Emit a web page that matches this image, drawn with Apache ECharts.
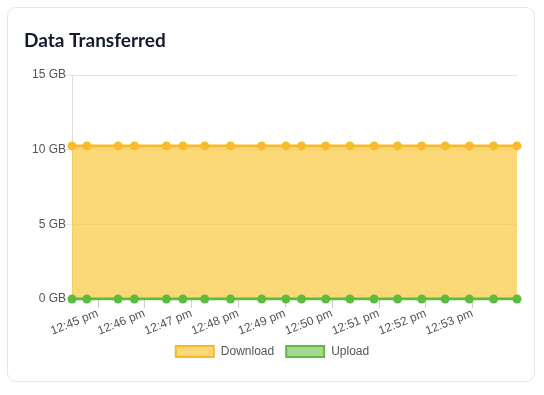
<!DOCTYPE html>
<html><head><meta charset="utf-8">
<script src="https://cdn.jsdelivr.net/npm/echarts@6/dist/echarts.min.js"></script>
<style>
html,body{margin:0;padding:0;background:#fff;width:544px;height:395px;overflow:hidden;}
#card{position:absolute;left:7px;top:7px;width:528px;height:375px;border:1px solid #e6e6e6;border-radius:9px;box-sizing:border-box;}
#chart{position:absolute;left:0;top:0;width:544px;height:395px;}
</style></head>
<body>
<div id="card"></div>
<div id="chart"></div>
<script>
const DAY = '2024-01-01 ';
const times = ['12:44:27','12:44:46','12:45:26','12:45:47','12:46:28','12:46:49','12:47:17','12:47:50','12:48:30','12:49:01',
               '12:49:21','12:49:52','12:50:23','12:50:54','12:51:24','12:51:55','12:52:25','12:52:56','12:53:27','12:53:57'];
const download = [10.25,10.25,10.25,10.25,10.25,10.25,10.25,10.25,10.25,10.25,10.25,10.25,10.25,10.25,10.25,10.25,10.25,10.25,10.25,10.25];
const upload = [0,0,0,0,0,0,0,0,0,0,0,0,0,0,0,0,0,0,0,0];
const tickTimes = ['12:45:00','12:46:00','12:47:00','12:48:00','12:49:00','12:50:00','12:51:00','12:52:00','12:53:00'];
const tickLabels = ['12:45 pm','12:46 pm','12:47 pm','12:48 pm','12:49 pm','12:50 pm','12:51 pm','12:52 pm','12:53 pm'];
const yTicks = [0,5,10,15];

const toMs = t => new Date(DAY.replace(' ','T') + t).getTime();
const tickMs = tickTimes.map(toMs);
const dlData = times.map((t,i)=>[toMs(t), download[i]]);
const ulData = times.map((t,i)=>[toMs(t), upload[i]]);
const xMin = toMs(times[0]), xMax = toMs(times[times.length-1]);

const chart = echarts.init(document.getElementById('chart'), null, {renderer:'canvas'});
const font = '"Liberation Sans", Arial, sans-serif';
chart.setOption({
  animation:false,
  title:{text:'Data Transferred', left:19, top:26, textStyle:{fontFamily:'Lato, "Noto Sans", sans-serif', fontWeight:'bold', fontSize:19, color:'#141a2e'}},
  grid:{left:72, right:27, top:75, bottom:96},
  legend:{
    bottom:32, left:'center', itemWidth:38, itemHeight:11, itemGap:11, icon:'rect',
    textStyle:{fontFamily:font, fontSize:12, color:'#555', padding:[0,0,0,2]},
    data:[
      {name:'Download', itemStyle:{color:'#fcd977', borderColor:'#f8b72a', borderWidth:2}},
      {name:'Upload', itemStyle:{color:'#a3d88e', borderColor:'#5dbb40', borderWidth:2}}
    ]
  },
  xAxis:{
    type:'value', min:xMin, max:xMax, scale:true,
    axisLine:{show:true, onZero:false, lineStyle:{color:'#ddd'}},
    axisTick:{show:true, customValues:tickMs, length:9, lineStyle:{color:'#cfcfcf'}},
    splitLine:{show:false},
    axisLabel:{customValues:tickMs, rotate:22, margin:14, fontFamily:font, fontSize:12, color:'#555',
      formatter:v=>{const i=tickMs.indexOf(v); return i>=0?tickLabels[i]:'';}}
  },
  yAxis:{
    type:'value', min:yTicks[0], max:yTicks[yTicks.length-1], interval:5,
    axisLine:{show:true, lineStyle:{color:'#ddd'}},
    axisTick:{show:true, length:6, lineStyle:{color:'#e5e5e5'}},
    splitLine:{lineStyle:{color:'#e5e5e5'}},
    axisLabel:{margin:6, fontFamily:font, fontSize:12, color:'#555', formatter:v=>v+' GB'}
  },
  series:[
    {name:'Download', type:'line', data:dlData, symbol:'circle', symbolSize:9,
     itemStyle:{color:'#f9bb2b'}, lineStyle:{color:'#f9bb2b', width:3},
     areaStyle:{color:'rgba(251,201,61,0.7)', opacity:1}, z:2},
    {name:'Upload', type:'line', data:ulData, symbol:'circle', symbolSize:9,
     itemStyle:{color:'#5dbb40'}, lineStyle:{color:'#5dbb40', width:3},
     areaStyle:{color:'rgba(93,187,64,0.5)', opacity:1}, z:3}
  ]
});
</script>
</body></html>
